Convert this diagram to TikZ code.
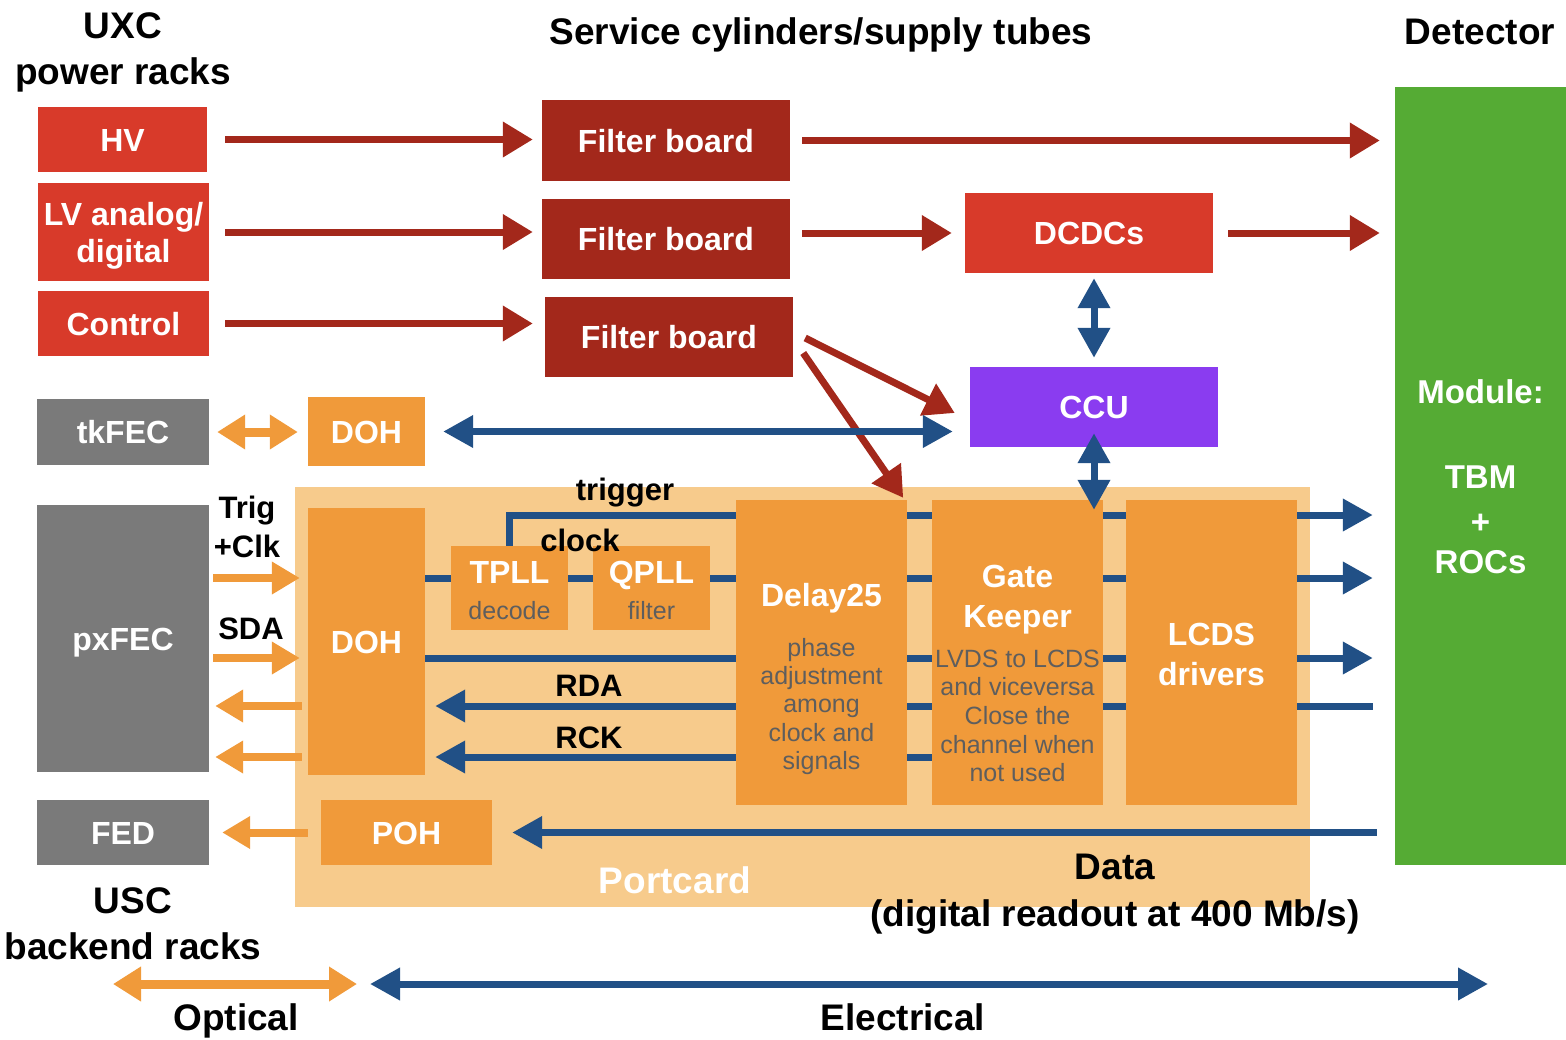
\documentclass[tikz,border=0pt]{standalone}
\usepackage{fontspec}
\setmainfont{Liberation Sans}
\usetikzlibrary{arrows.meta,calc}

\definecolor{pwrred}{RGB}{216,58,42}
\definecolor{fltred}{RGB}{163,40,27}
\definecolor{ccupurple}{RGB}{138,60,240}
\definecolor{modgreen}{RGB}{85,171,52}
\definecolor{fecgray}{RGB}{122,122,122}
\definecolor{ohorange}{RGB}{240,154,58}
\definecolor{pcbg}{RGB}{247,203,140}
\definecolor{linkblue}{RGB}{33,80,134}
\definecolor{notegray}{RGB}{94,94,94}

\begin{document}
\begin{tikzpicture}[x=1pt,y=-1pt,
  blk/.style={draw=none,inner sep=0pt,text=white,
    font=\fontsize{32}{38}\selectfont\bfseries,
    text height=23pt,text depth=0pt},
  boxtxt/.style={inner sep=0pt,text=white,
    font=\fontsize{32}{38}\selectfont\bfseries,
    text height=23pt,text depth=0pt},
  modtxt/.style={boxtxt,font=\fontsize{33}{38}\selectfont\bfseries,text height=23.8pt},
  notetxt/.style={inner sep=0pt,text=notegray,
    font=\fontsize{25}{28}\selectfont,
    text height=18pt,text depth=0pt},
  headtxt/.style={inner sep=0pt,text=black,
    font=\fontsize{37}{42}\selectfont\bfseries,
    text height=26.6pt,text depth=0pt},
  sigtxt/.style={inner sep=0pt,text=black,
    font=\fontsize{31}{36}\selectfont\bfseries,
    text height=22.3pt,text depth=0pt},
  redarr/.style={draw=fltred,line width=7pt,-{Triangle[length=30pt,width=34pt]}},
  bluearr/.style={draw=linkblue,line width=7pt,-{Triangle[length=30pt,width=31pt]}},
  bluedbl/.style={draw=linkblue,line width=7pt,{Triangle[length=30pt,width=31pt]}-{Triangle[length=30pt,width=31pt]}},
  blueline/.style={draw=linkblue,line width=7pt},
  orgarr/.style={draw=ohorange,line width=8pt,-{Triangle[length=28pt,width=31pt]}},
  orgdbl/.style={draw=ohorange,line width=9pt,{Triangle[length=28pt,width=33pt]}-{Triangle[length=28pt,width=33pt]}}
]
\useasboundingbox (0,0) rectangle (1566,1039);

% portcard background
\node[blk,fill=pcbg,minimum width=1015,minimum height=420] (pc) at (802.5,697) {};

% power racks and filter boards
\node[blk,fill=pwrred,minimum width=169,minimum height=65] (hv) at (122.5,139.5) {HV};
\node[blk,fill=pwrred,minimum width=171,minimum height=98] (lv) at (123.5,232) {};
\node[blk,fill=pwrred,minimum width=171,minimum height=65] (ctl) at (123.5,323.5) {Control};
\node[blk,fill=fltred,minimum width=248,minimum height=81] (f1) at (666,140.5) {Filter board};
\node[blk,fill=fltred,minimum width=248,minimum height=80] (f2) at (666,239) {Filter board};
\node[blk,fill=fltred,minimum width=248,minimum height=80] (f3) at (669,337) {Filter board};
\node[blk,fill=pwrred,minimum width=248,minimum height=80] (dcdc) at (1089,233) {DCDCs};
\node[blk,fill=ccupurple,minimum width=248,minimum height=80] (ccu) at (1094,407) {CCU};
\node[blk,fill=modgreen,minimum width=171,minimum height=778] (mod) at (1480.5,476) {};

% backend and optical hybrids
\node[blk,fill=fecgray,minimum width=172,minimum height=66] (tkfec) at (123,432) {tkFEC};
\node[blk,fill=ohorange,minimum width=117,minimum height=69] (dohtop) at (366.5,431.5) {DOH};
\node[blk,fill=fecgray,minimum width=172,minimum height=267] (pxfec) at (123,638.5) {pxFEC};
\node[blk,fill=ohorange,minimum width=117,minimum height=267] (dohb) at (366.5,641.5) {DOH};
\node[blk,fill=fecgray,minimum width=172,minimum height=65] (fed) at (123,832.5) {FED};
\node[blk,fill=ohorange,minimum width=171,minimum height=65] (poh) at (406.5,832.5) {POH};

% portcard chips
\node[blk,fill=ohorange,minimum width=117,minimum height=84] (tpll) at (509.5,588) {};
\node[blk,fill=ohorange,minimum width=117,minimum height=84] (qpll) at (651.5,588) {};
\node[blk,fill=ohorange,minimum width=171,minimum height=305] (dly) at (821.5,652.5) {};
\node[blk,fill=ohorange,minimum width=171,minimum height=305] (gk) at (1017.5,652.5) {};
\node[blk,fill=ohorange,minimum width=171,minimum height=305] (lcds) at (1211.5,652.5) {};

% texts inside blocks
\node[boxtxt] (lvA) at (123.5,214) {LV analog/};
\node[boxtxt] (lvB) at (123.5,251) {digital};
\node[boxtxt] (tpllT) at (509.5,572) {TPLL};
\node[notetxt] (tpllN) at (509.5,610) {decode};
\node[boxtxt] (qpllT) at (651.5,572) {QPLL};
\node[notetxt] (qpllN) at (651.5,610) {filter};
\node[boxtxt] (dlyT) at (821.5,595) {Delay25};
\foreach \t/\yy [count=\i] in {phase/647,adjustment/675,among/703,clock and/732,signals/760}
  \node[notetxt] (dlyN\i) at (821.5,\yy) {\t};
\node[boxtxt] (gkA) at (1017.5,576) {Gate};
\node[boxtxt] (gkB) at (1017.5,616) {Keeper};
\foreach \t/\yy [count=\i] in {LVDS to LCDS/658,and viceversa/686,Close the/715,channel when/744,not used/772}
  \node[notetxt] (gkN\i) at (1017.5,\yy) {\t};
\node[boxtxt] (lcdsA) at (1211.5,634) {LCDS};
\node[boxtxt] (lcdsB) at (1211.5,674) {drivers};
\node[modtxt] (modA) at (1480.5,392) {Module:};
\node[modtxt] (modB) at (1480.5,477) {TBM};
\node[modtxt] (modC) at (1480.5,522) {+};
\node[modtxt] (modD) at (1480.5,562) {ROCs};
\node[headtxt,text=white] (pcT) at (675,880) {Portcard};

% headings and captions
\node[headtxt] (uxcA) at (123,25) {UXC};
\node[headtxt] (uxcB) at (123,71) {power racks};
\node[headtxt] (svc) at (821,31) {Service cylinders/supply tubes};
\node[headtxt] (det) at (1480,31) {Detector};
\node[headtxt] (uscA) at (133,900) {USC};
\node[headtxt] (uscB) at (133,946) {backend racks};
\node[headtxt] (datA) at (1115,866) {Data};
\node[headtxt] (datB) at (1115,913) {(digital readout at 400 Mb/s)};
\node[headtxt] (optT) at (236,1017) {Optical};
\node[headtxt] (eleT) at (903,1017) {Electrical};

% signal names
\node[sigtxt] (trgT) at (625,489) {trigger};
\node[sigtxt] (clkT) at (580,540) {clock};
\node[sigtxt] (tcA) at (247,507) {Trig};
\node[sigtxt] (tcB) at (247,546) {+Clk};
\node[sigtxt] (sdaT) at (251,628) {SDA};
\node[sigtxt] (rdaT) at (589,685) {RDA};
\node[sigtxt] (rckT) at (589,737) {RCK};

% signal rows through the portcard
\coordinate (rT) at (0,515);
\coordinate (rC) at (0,578);
\coordinate (rS) at (0,658);
\coordinate (rA) at (0,706);
\coordinate (rK) at (0,757);

% power distribution
\draw[redarr,shorten <=18pt,shorten >=9pt] (hv.east) -- (hv.east -| f1.west);
\draw[redarr,shorten <=12pt,shorten >=15pt] (f1.east) -- (f1.east -| mod.west);
\draw[redarr,shorten <=16pt,shorten >=9pt] (lv.east) -- (lv.east -| f2.west);
\draw[redarr,shorten <=12pt,shorten >=13pt] (f2.east |- dcdc.west) -- (dcdc.west);
\draw[redarr,shorten <=15pt,shorten >=15pt] (dcdc.east) -- (dcdc.east -| mod.west);
\draw[redarr,shorten <=16pt,shorten >=12pt] (ctl.east) -- (ctl.east -| f3.west);
\draw[redarr] ($(f3.east)+(12,1)$) -- ($(ccu.west)+(-15,6)$);
\draw[redarr] ($(f3.east)+(10,16)$) -- ($(dly.north east)+(-4,-2)$);

% control ring
\draw[bluedbl,shorten <=5pt,shorten >=9pt] (ccu.north |- dcdc.south) -- (ccu.north);
\draw[bluedbl] ($(ccu.south)+(0,-14)$) -- ($(ccu.south |- gk.north)+(0,10)$);
\draw[bluedbl,shorten <=18pt,shorten >=17pt] (dohtop.east) -- (dohtop.east -| ccu.west);

% portcard links
\draw[blueline] (tpll.north) |- (dly.west |- rT);
\draw[blueline] (dohb.east |- rC) -- (tpll.west |- rC);
\draw[blueline] (tpll.east |- rC) -- (qpll.west |- rC);
\draw[blueline] (qpll.east |- rC) -- (dly.west |- rC);
\draw[blueline] (dohb.east |- rS) -- (dly.west |- rS);
\draw[bluearr,shorten >=10pt] (dly.west |- rA) -- (dohb.east |- rA);
\draw[bluearr,shorten >=10pt] (dly.west |- rK) -- (dohb.east |- rK);
\foreach \r in {rT,rC,rS,rA,rK}
  \draw[blueline] (dly.east |- \r) -- (gk.west |- \r);
\foreach \r in {rT,rC,rS,rA}
  \draw[blueline] (gk.east |- \r) -- (lcds.west |- \r);
\foreach \r in {rT,rC,rS}
  \draw[bluearr,shorten >=22pt] (lcds.east |- \r) -- (mod.west |- \r);
\draw[blueline,shorten >=22pt] (lcds.east |- rA) -- (mod.west |- rA);
\draw[bluearr,shorten <=18pt,shorten >=20pt] (mod.west |- poh.east) -- (poh.east);

% optical links
\draw[orgdbl,shorten <=8pt,shorten >=10pt] (tkfec.east) -- (tkfec.east -| dohtop.west);
\draw[orgarr,shorten <=4pt,shorten >=8pt] (pxfec.east |- rC) -- (dohb.west |- rC);
\draw[orgarr,shorten <=4pt,shorten >=8pt] (pxfec.east |- rS) -- (dohb.west |- rS);
\draw[orgarr,shorten <=6pt,shorten >=6pt] (dohb.west |- rA) -- (pxfec.east |- rA);
\draw[orgarr,shorten <=6pt,shorten >=6pt] (dohb.west |- rK) -- (pxfec.east |- rK);
\draw[orgarr,shorten <=13pt,shorten >=13pt] (poh.west) -- (fed.east);

% legend
\coordinate (optL) at (113,984);
\coordinate (optR) at (357,984);
\coordinate (eleL) at (370,984);
\coordinate (eleR) at (1488,984);
\draw[orgdbl] (optL) -- (optR);
\draw[bluedbl] (eleL) -- (eleR);
\end{tikzpicture}
\end{document}
